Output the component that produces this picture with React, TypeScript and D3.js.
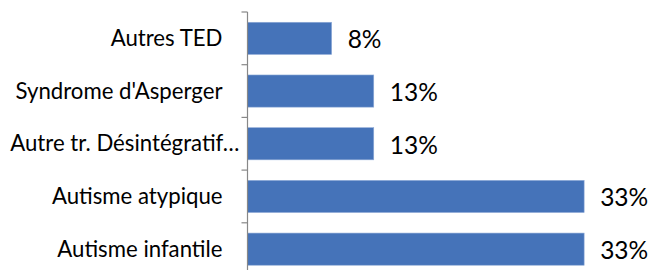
import * as d3 from "d3";
import * as React from "react";

const categories = [
    "Autres TED",
    "Syndrome d'Asperger",
    "Autre tr. Désintégratif…",
    "Autisme atypique",
    "Autisme infantile",
];
const shares = [8.33, 12.5, 12.5, 33.33, 33.33];

const width = 648;
const height = 270;
const axisX = 247.5;
const font = "Lato, 'Open Sans', sans-serif";

export default function App() {
    const y = d3.scaleBand<string>()
        .domain(categories)
        .range([12, 12 + 5 * 52.7])
        .paddingInner(0.39)
        .paddingOuter(0.195);

    const x = d3.scaleLinear()
        .domain([0, 40])
        .range([axisX, axisX + 404]);

    const ticks = d3.range(categories.length + 1).map(i => 12 + i * y.step());
    const rows = categories.map((c, i) => ({ name: c, value: shares[i] }));

    return (
        <svg width={width} height={height}
            style={{ position: "absolute", left: 0, top: 0, background: "#fff" }}>
            {rows.map(r => (
                <g key={r.name}>
                    <rect x={x(0)} y={y(r.name)} width={x(r.value) - x(0)} height={y.bandwidth()}
                        fill="#4573b9" stroke="#8fabd8" strokeWidth={0.6} />
                    <text x={x(r.value) + 16} y={y(r.name)! + y.bandwidth() / 2 + 10}
                        fontFamily={font} fontSize={24.5} fill="#000">
                        {`${Math.round(r.value)}%`}
                    </text>
                    <text x={axisX - (r.name.endsWith("…") ? 8 : 25)} y={y(r.name)! + y.bandwidth() / 2 + 7.5}
                        textAnchor="end" fontFamily={font} fontSize={22.2} fill="#000">
                        {r.name}
                    </text>
                </g>
            ))}
            <line x1={axisX} x2={axisX} y1={12} y2={height} stroke="#888" strokeWidth={1.2} />
            {ticks.map(t => (
                <line key={t} x1={axisX - 6} x2={axisX} y1={t} y2={t} stroke="#888" strokeWidth={1.2} />
            ))}
        </svg>
    );
}
